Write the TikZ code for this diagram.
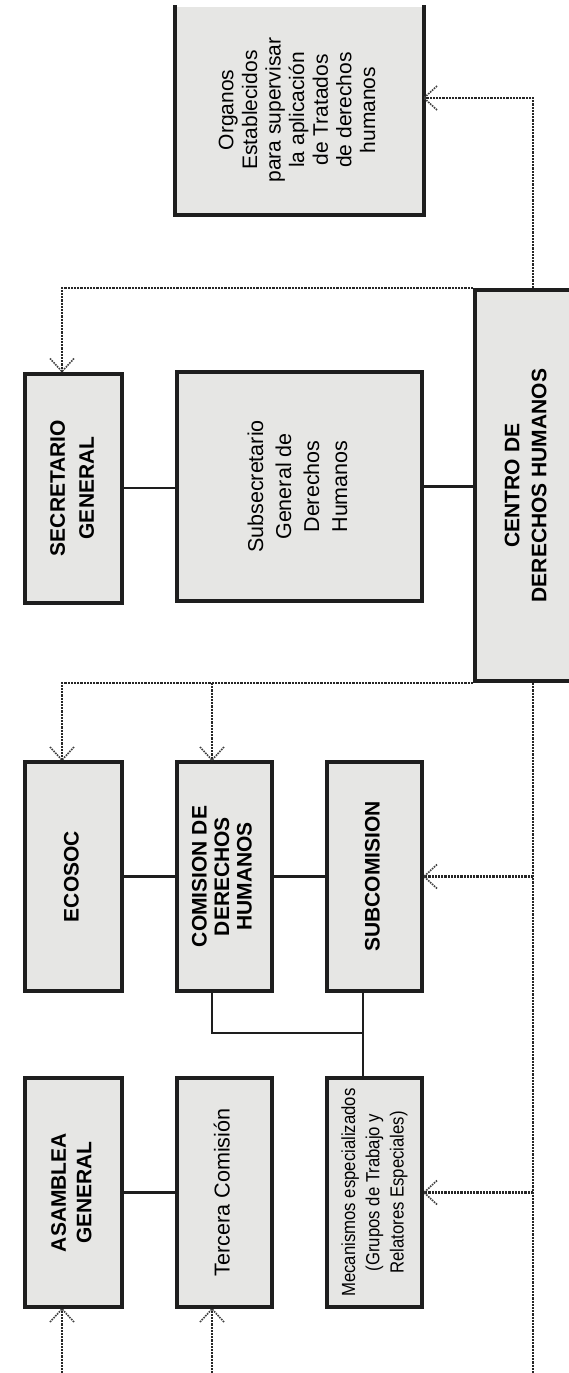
\documentclass[tikz,border=0pt]{standalone}
\usepackage{fontspec}
\usepackage{graphicx}
\setmainfont{Liberation Sans}
\newfontfamily\narrowfont[FakeStretch=0.88]{Liberation Sans}
\usetikzlibrary{calc,decorations.markings}
\definecolor{boxgray}{HTML}{E6E6E4}
\definecolor{inkline}{HTML}{1E1E1E}
\tikzset{
  orgbox/.style={draw=inkline, line width=4pt, fill=boxgray, inner sep=0pt,
    minimum width=97pt, minimum height=229pt},
  link/.style={draw=inkline, line width=2.5pt},
  dots/.style={draw=black!85, line width=2.2pt, densely dotted},
  dotarrow/.style={dots, postaction=decorate, decoration={markings,
    mark=at position 1 with {\draw[black!75, line width=1.6pt, densely dotted] (-13,-12) -- (0,0) -- (-13,12);}}}
}
% rotated box text: [size]{baselineskip}{lines}
\newcommand{\vtext}[3][21]{\rotatebox{90}{\fontsize{#1}{#2}\selectfont\begin{tabular}{@{}c@{}}#3\end{tabular}}}

\begin{document}
\begin{tikzpicture}[x=1pt, y=-1pt]
    \clip (0,0) rectangle (569,1373);
    % top: treaty bodies, secretariat, centre
    \node[orgbox, draw=none, minimum width=245pt, minimum height=206pt] (org) at (299.5,110)
        {\vtext{23.6}{Organos\\Establecidos\\para supervisar\\la aplicación\\de Tratados\\de derechos\\humanos}};
    \draw[inkline, line width=4pt] (org.north west) -- (org.south west) -- (org.south east) -- (org.north east);
    \node[orgbox, font=\bfseries] (sec) at (73.5,488) {\vtext{29}{SECRETARIO\\GENERAL}};
    \node[orgbox, minimum width=245pt] (subsec) at (299.5,486.5)
        {\vtext[21.5]{28}{Subsecretario\\General de\\Derechos\\Humanos}};
    \node[orgbox, font=\bfseries, minimum width=105pt, minimum height=391pt] (centro) at (527.5,485.5)
        {\vtext{27}{CENTRO DE\\DERECHOS HUMANOS}};
    % middle row
    \node[orgbox, font=\bfseries] (ecosoc) at (73.5,876.5) {\vtext{25}{ECOSOC}};
    \node[orgbox, font=\bfseries, minimum width=95pt] (cdh) at (224.5,876.5)
        {\vtext{22.5}{COMISION DE\\DERECHOS\\HUMANOS}};
    \node[orgbox, font=\bfseries, minimum width=95pt] (subcom) at (374.5,876.5) {\vtext{25}{SUBCOMISION}};
    % bottom row
    \node[orgbox, font=\bfseries] (asamblea) at (73.5,1192.5) {\vtext{25.4}{ASAMBLEA\\GENERAL}};
    \node[orgbox, minimum width=95pt] (tercera) at (224.5,1192.5) {\vtext[21.6]{25}{Tercera Comisión}};
    \node[orgbox, font=\narrowfont, minimum width=95pt] (mecan) at (374.5,1192.5)
        {\vtext[19]{24.3}{Mecanismos especializados\\(Grupos de Trabajo y\\Relatores Especiales)}};

    % solid links
    \draw[link] (sec.east) -- (sec.east -| subsec.west);
    \draw[link] (subsec.east) -- (subsec.east -| centro.west);
    \draw[link] (ecosoc.east) -- (cdh.west);
    \draw[link] (cdh.east) -- (subcom.west);
    \draw[link] (asamblea.east) -- (tercera.west);
    \coordinate (jn) at (363,1033);
    \draw[link] ([xshift=-12.5pt]cdh.south) |- (jn);
    \draw[link] ([xshift=-11.5pt]subcom.south) -- ([xshift=-11.5pt]mecan.north);

    % dotted links
    \coordinate (rb) at (533,1380);
    \coordinate (ab) at (62,1380);
    \coordinate (tb) at (212,1380);
    \coordinate (cdhin) at ([xshift=-12.5pt]cdh.north);
    \draw[dotarrow] (centro.north west) -| ([xshift=-11.5pt]sec.north);
    \draw[dotarrow] ([xshift=5.5pt]centro.north) |- ([yshift=12pt]org.east);
    \draw[dotarrow] (centro.south west) -| ([xshift=-11.5pt]ecosoc.north);
    \draw[dotarrow] (cdhin |- centro.south west) -- (cdhin);
    \draw[dots] ([xshift=5.5pt]centro.south) -- (rb);
    \draw[dotarrow] (rb |- subcom.east) -- (subcom.east);
    \draw[dotarrow] (rb |- mecan.east) -- (mecan.east);
    \draw[dotarrow] (ab) -- ([xshift=-11.5pt]asamblea.south);
    \draw[dotarrow] (tb) -- ([xshift=-12.5pt]tercera.south);
\end{tikzpicture}
\end{document}
